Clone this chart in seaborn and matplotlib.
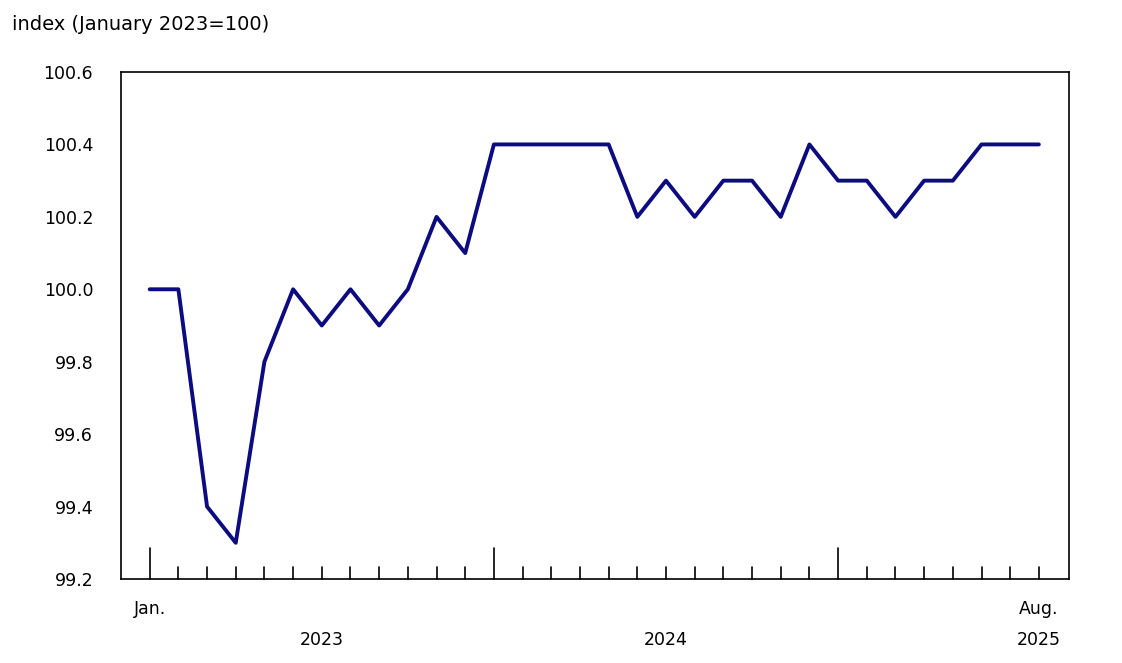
import matplotlib
matplotlib.use("Agg")
import matplotlib.pyplot as plt
import seaborn as sns
import pandas as pd

months = list(range(32))
values = [100.0, 100.0, 99.4, 99.3, 99.8, 100.0, 99.9, 100.0, 99.9, 100.0, 100.2, 100.1,
          100.4, 100.4, 100.4, 100.4, 100.4, 100.2, 100.3, 100.2, 100.3, 100.3, 100.2, 100.4,
          100.3, 100.3, 100.2, 100.3, 100.3, 100.4, 100.4, 100.4]
yticks = [99.2, 99.4, 99.6, 99.8, 100.0, 100.2, 100.4, 100.6]
year_labels = ["2023", "2024", "2025"]

sns.set_theme(style="white")
plt.rcParams['font.family'] = ['DejaVu Sans']
plt.rcParams['text.color'] = 'black'
plt.rcParams['ytick.color'] = 'black'
df = pd.DataFrame({"m": months, "v": values})

fig = plt.figure(figsize=(11.22, 6.63), dpi=100)
ax = fig.add_axes([121/1122, 1-579/663, (1069-121)/1122, (579-72)/663])
sns.lineplot(data=df, x="m", y="v", ax=ax, color="#0c0c80", linewidth=2.8)
ax.set_xlim(-1.0, 32.05)
ax.set_ylim(99.2, 100.6)
ax.set_yticks(yticks)
ax.set_yticklabels([f"{t:.1f}" for t in yticks], fontsize=12.5, color="black")
ax.tick_params(axis="y", length=0, pad=20)
for s in ax.spines.values():
    s.set_color("black"); s.set_linewidth(1.2)
ax.set_xticks([])
ax.set_xlabel(""); ax.set_ylabel("")
for m in months:
    h = 0.085 if m % 12 == 0 else 0.033
    ax.plot([m, m], [99.2, 99.2 + h], color="black", linewidth=1.2, clip_on=False)
ax.text(0, -0.06, "Jan.", transform=ax.get_xaxis_transform(), ha="center", va="center", fontsize=12.5)
ax.text(31, -0.06, "Aug.", transform=ax.get_xaxis_transform(), ha="center", va="center", fontsize=12.5)
for x, lab in zip([6, 18, 31], year_labels):
    ax.text(x, -0.12, lab, transform=ax.get_xaxis_transform(), ha="center", va="center", fontsize=12.5)
fig.text(12/1122, 1-24/663, "index (January 2023=100)", ha="left", va="center", fontsize=14)
fig.savefig("out.png", dpi=100)
